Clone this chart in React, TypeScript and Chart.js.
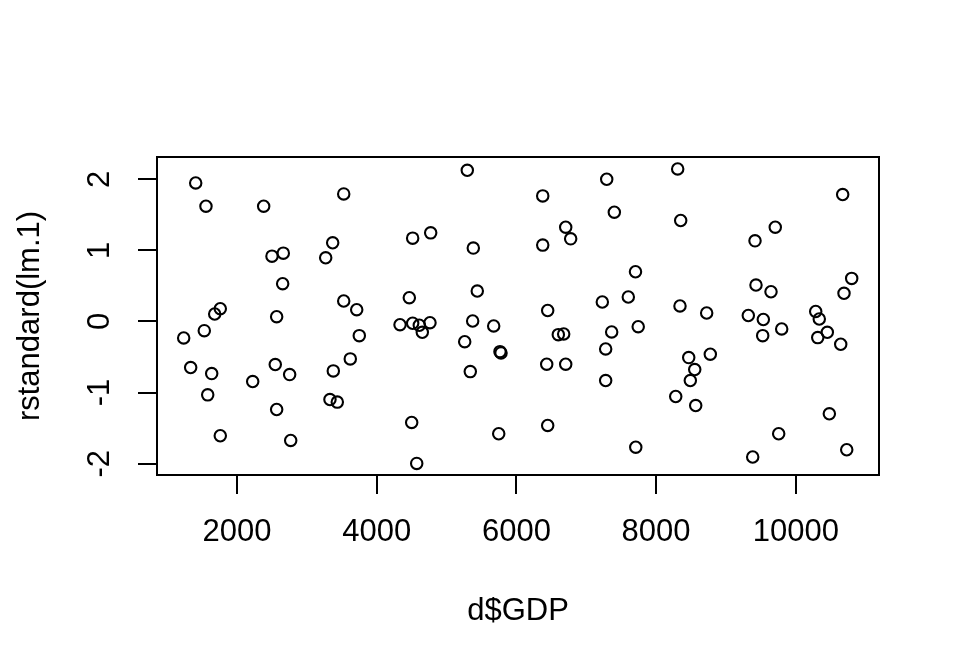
import React, { useEffect, useRef } from "react";
import { Chart, registerables } from "chart.js";

Chart.register(...registerables);

// GDP (x) values
const gdp = [
  1409, 1556, 1761, 1681, 1532, 1237, 1337, 1638, 1581, 1761,
  2382, 2501, 2663, 2654, 2568, 2548, 2754, 2225, 2568, 2769,
  3528, 3370, 3270, 3528, 3714, 3751, 3622, 3379, 3331, 3436,
  4334, 4515, 4610, 4653, 4763, 4515, 4773, 4467, 4501, 4573,
  5297, 5383, 5440, 5374, 5260, 5675, 5765, 5780, 5340, 5747,
  6377, 6377, 6706, 6777, 6448, 6600, 6677, 6434, 6706, 6448,
  7293, 7402, 7230, 7602, 7705, 7364, 7744, 7278, 7278, 7709,
  8309, 8352, 8342, 8724, 8776, 8467, 8553, 8490, 8281, 8567,
  9416, 9706, 9430, 9645, 9320, 9535, 9526, 9798, 9755, 9383,
  10285, 10336, 10314, 10451, 10643, 10690, 10800, 10671, 10480, 10729,
];

// standardized residuals (y) values
const rstd = [
  1.948, 1.621, 0.18, 0.105, -0.129, -0.232, -0.648, -0.733, -1.032, -1.607,
  1.621, 0.919, 0.961, 0.531, 0.067, -0.606, -0.747, -0.845, -1.238, -1.673,
  1.794, 1.106, 0.895, 0.288, 0.166, -0.199, -0.526, -0.695, -1.098, -1.134,
  -0.045, -0.025, -0.053, -0.152, -0.017, 1.172, 1.246, 0.334, -1.42, -1.996,
  2.126, 1.032, 0.428, 0.007, -0.284, -0.063, -0.424, -0.442, -0.705, -1.579,
  1.766, 1.074, 1.326, 1.162, 0.154, -0.185, -0.175, -0.601, -0.601, -1.462,
  2.0, 1.537, 0.274, 0.344, 0.699, -0.147, -0.073, -0.386, -0.831, -1.768,
  2.145, 1.42, 0.218, 0.119, -0.46, -0.508, -0.676, -0.831, -1.055, -1.182,
  1.134, 1.326, 0.512, 0.418, 0.084, 0.028, -0.199, -0.105, -1.579, -1.906,
  0.14, 0.035, -0.227, -0.152, -0.32, 0.396, 0.606, 1.785, -1.298, -1.804,
];

const xTicks = [2000, 4000, 6000, 8000, 10000];
const yTicks = [-2, -1, 0, 1, 2];
const xRange = [855, 11191];
const yRange = [-2.159, 2.313];
const xLabel = "d$GDP";
const yLabel = "rstandard(lm.1)";

const FONT = "'Liberation Sans', Arial, sans-serif";
const FS = 31;

export default function App() {
  const ref = useRef<HTMLCanvasElement>(null);

  useEffect(() => {
    if (!ref.current) return;
    const boxPlugin = {
      id: "rbox",
      afterDraw(chart: any) {
        const { ctx, chartArea: a } = chart;
        ctx.save();
        ctx.strokeStyle = "#000";
        ctx.lineWidth = 2;
        ctx.strokeRect(a.left, a.top, a.right - a.left, a.bottom - a.top);
        ctx.restore();
      },
    };
    const chart = new Chart(ref.current, {
      type: "scatter",
      data: {
        datasets: [
          {
            data: gdp.map((x, i) => ({ x, y: rstd[i] })),
            borderColor: "#000",
            backgroundColor: "rgba(0,0,0,0)",
            pointBorderColor: "#000",
            pointBackgroundColor: "rgba(0,0,0,0)",
            pointRadius: 5.7,
            pointHoverRadius: 5.7,
            pointBorderWidth: 2.1,
            pointHoverBorderWidth: 2.1,
            pointStyle: "circle",
          },
        ],
      },
      options: {
        responsive: false,
        animation: false,
        devicePixelRatio: 1,
        events: [],
        layout: { padding: { top: 157, right: 81, left: 0, bottom: 0 } },
        plugins: { legend: { display: false }, tooltip: { enabled: false } },
        scales: {
          x: {
            type: "linear",
            min: xRange[0],
            max: xRange[1],
            afterBuildTicks: (s: any) => {
              s.ticks = xTicks.map((v) => ({ value: v }));
            },
            afterFit: (s: any) => {
              s.height = 197;
            },
            grid: { drawOnChartArea: false, drawTicks: true, tickLength: 19, color: "#000", lineWidth: 2 },
            border: { display: false },
            ticks: {
              color: "#000",
              font: { family: FONT, size: FS },
              padding: 20,
              maxRotation: 0,
              minRotation: 0,
              autoSkip: false,
              callback: (v: any) => String(v),
            },
            title: {
              display: true,
              text: xLabel,
              color: "#000",
              font: { family: FONT, size: FS },
              padding: { top: 0, bottom: 42 },
            },
          },
          y: {
            type: "linear",
            min: yRange[0],
            max: yRange[1],
            afterBuildTicks: (s: any) => {
              s.ticks = yTicks.map((v) => ({ value: v }));
            },
            afterFit: (s: any) => {
              s.width = 157;
            },
            grid: { drawOnChartArea: false, drawTicks: true, tickLength: 19, color: "#000", lineWidth: 2 },
            border: { display: false },
            ticks: {
              color: "#000",
              font: { family: FONT, size: FS },
              padding: 24,
              minRotation: 90,
              maxRotation: 90,
              crossAlign: "center",
              autoSkip: false,
              callback: (v: any) => String(v),
            },
            title: {
              display: true,
              text: yLabel,
              color: "#000",
              font: { family: FONT, size: FS },
              padding: { top: 12, bottom: 0 },
            },
          },
        },
      },
      plugins: [boxPlugin],
    } as any);
    return () => chart.destroy();
  }, []);

  return (
    <div style={{ position: "absolute", left: 0, top: 0, width: 960, height: 672, background: "#fff" }}>
      <canvas ref={ref} width={960} height={672} style={{ display: "block", width: 960, height: 672 }} />
    </div>
  );
}
